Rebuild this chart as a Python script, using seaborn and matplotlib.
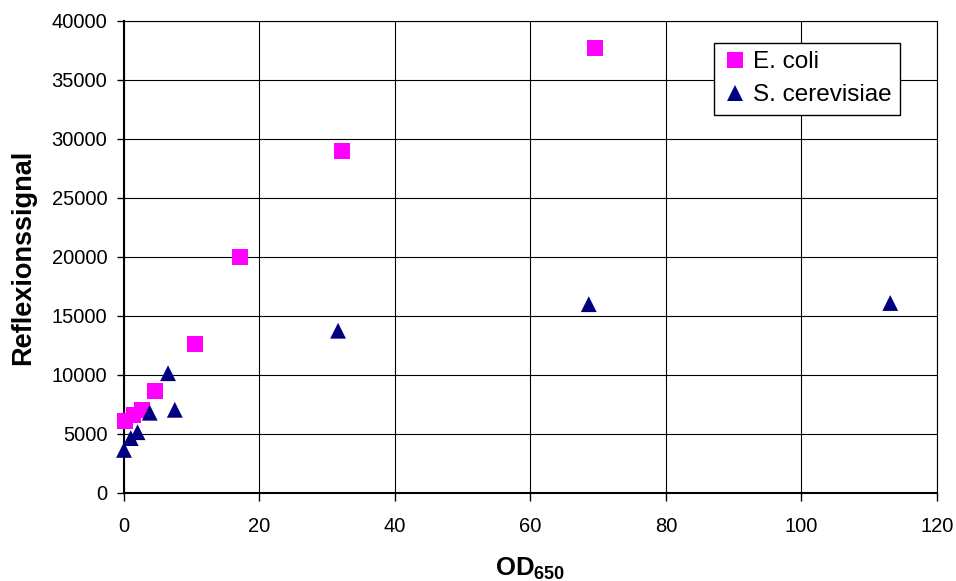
import matplotlib
matplotlib.use("Agg")
import matplotlib.pyplot as plt
import seaborn as sns
import pandas as pd

# OD650 vs. reflection signal for two organisms
ecoli_od = [0.15, 1.4, 2.6, 4.6, 10.5, 17.1, 32.2, 69.5]
ecoli_signal = [6100, 6600, 7000, 8650, 12600, 20000, 28950, 37700]

yeast_od = [0.0, 1.0, 2.0, 3.8, 6.5, 7.5, 31.6, 68.6, 113.1]
yeast_signal = [3650, 4650, 5150, 6800, 10150, 7050, 13750, 16000, 16100]

series_names = ["E. coli", "S. cerevisiae"]
x_ticks = [0, 20, 40, 60, 80, 100, 120]
y_ticks = list(range(0, 40001, 5000))

df = pd.concat([
    pd.DataFrame({"OD": ecoli_od, "Signal": ecoli_signal, "Organismus": series_names[0]}),
    pd.DataFrame({"OD": yeast_od, "Signal": yeast_signal, "Organismus": series_names[1]}),
])

sns.set_theme(style="white")
plt.rcParams["font.family"] = ["Liberation Sans", "DejaVu Sans"]
plt.rcParams["text.color"] = "black"
plt.rcParams["axes.labelcolor"] = "black"
plt.rcParams["mathtext.fontset"] = "custom"
plt.rcParams["mathtext.rm"] = "Liberation Sans"
plt.rcParams["mathtext.bf"] = "Liberation Sans:bold"

fig = plt.figure(figsize=(9.56, 5.81), dpi=100)
ax = fig.add_axes([0.1297, 0.1515, 0.8504, 0.8124])

sns.scatterplot(
    data=df, x="OD", y="Signal", hue="Organismus", style="Organismus",
    hue_order=series_names, style_order=series_names,
    palette={series_names[0]: "#FF00FF", series_names[1]: "#000080"},
    markers={series_names[0]: "s", series_names[1]: "^"},
    s=130, edgecolor="none", linewidth=0, ax=ax, zorder=3, clip_on=False,
)

ax.set_xlim(0, 120)
ax.set_ylim(0, 40000)
ax.set_xticks(x_ticks)
ax.set_yticks(y_ticks)
ax.tick_params(axis="both", labelsize=14.5, colors="black", labelcolor="black",
               direction="out", width=1, left=True, bottom=True)
ax.tick_params(axis="y", pad=7, length=5)
ax.tick_params(axis="x", pad=12, length=5.5)

ax.grid(True, color="black", linewidth=0.8)
ax.set_axisbelow(True)
for side in ["top", "right"]:
    ax.spines[side].set_color("black")
    ax.spines[side].set_linewidth(0.8)
for side in ["left", "bottom"]:
    ax.spines[side].set_color("black")
    ax.spines[side].set_linewidth(1.5)

ax.set_xlabel("OD$_{\\mathbf{650}}$", fontsize=18.5, fontweight="bold", labelpad=14)
ax.set_ylabel("Reflexionssignal", fontsize=19.5, fontweight="bold", labelpad=11)

leg = ax.legend(loc="upper right", bbox_to_anchor=(0.9545, 0.954), fontsize=17.5,
                frameon=True, fancybox=False, edgecolor="black", framealpha=1,
                handletextpad=0.25, borderpad=0.35, labelspacing=0.45,
                borderaxespad=0, markerscale=1.05, handlelength=1.0)
leg.get_frame().set_linewidth(1.0)

fig.savefig("out.png", dpi=100)
